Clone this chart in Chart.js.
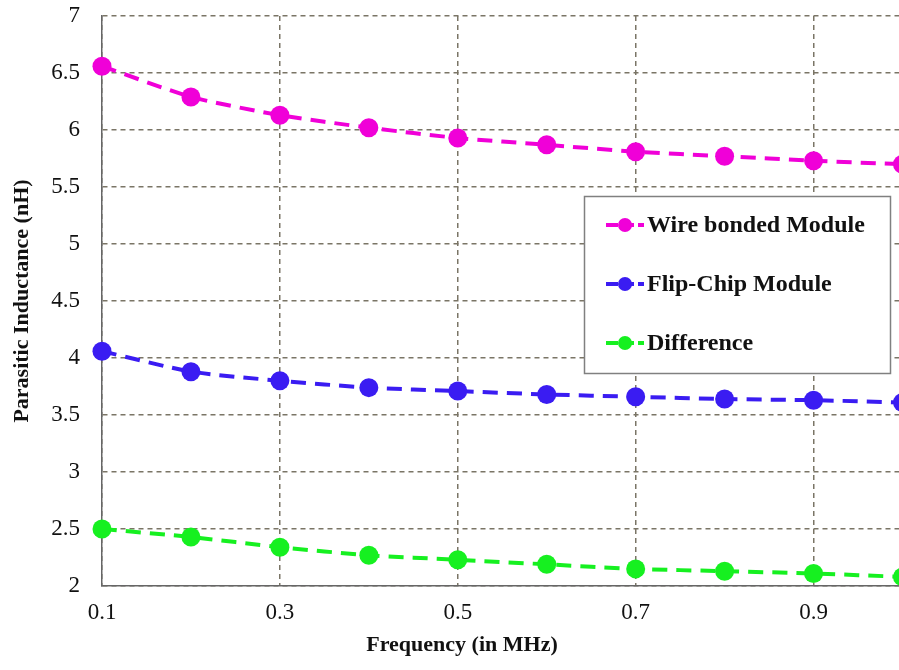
<!DOCTYPE html>
<html>
<head>
<meta charset="utf-8">
<title>Parasitic Inductance vs Frequency</title>
<script src="https://cdn.jsdelivr.net/npm/chart.js@4/dist/chart.umd.min.js"></script>
<style>
  html, body { margin: 0; padding: 0; background: #fff; overflow: hidden; }
  canvas { display: block; }
</style>
</head>
<body>
<canvas id="inductanceChart" width="912" height="670"></canvas>
<script>
// frequency points (MHz)
const FREQ = [0.1, 0.2, 0.3, 0.4, 0.5, 0.6, 0.7, 0.8, 0.9, 1.0];

// inductance per module (nH)
const WIRE_BONDED = [6.56, 6.29, 6.13, 6.02, 5.93, 5.87, 5.81, 5.77, 5.73, 5.70];
const FLIP_CHIP   = [4.06, 3.88, 3.80, 3.74, 3.71, 3.68, 3.66, 3.64, 3.63, 3.61];
const DIFFERENCE  = [2.50, 2.43, 2.34, 2.27, 2.23, 2.19, 2.15, 2.13, 2.11, 2.08];

const SERIES_NAMES = ['Wire bonded Module', 'Flip-Chip Module', 'Difference'];
const SERIES_COLORS = ['#F000D8', '#3A1CF2', '#16F020'];

const X_TICKS = [0.1, 0.3, 0.5, 0.7, 0.9];
const Y_MIN = 2, Y_MAX = 7, Y_STEP = 0.5;

const SERIF = "'Liberation Serif', 'Times New Roman', serif";
const GRID_COLOR = '#7a7566';
const AXIS_COLOR = '#666';

function toPoints(values) {
    return values.map((v, i) => ({ x: FREQ[i], y: v }));
}

function makeDataset(label, values, color) {
    return {
        label: label,
        data: toPoints(values),
        borderColor: color,
        backgroundColor: color,
        borderWidth: 4,
        borderDash: [15, 9],
        pointRadius: 9.5,
        pointHoverRadius: 9.5,
        pointBorderWidth: 0,
        pointBackgroundColor: color,
        tension: 0.2,
        clip: false
    };
}

// boxed legend + centred x title, drawn on top of the plot
const overlayPlugin = {
    id: 'overlay',
    afterDraw(chart) {
        const ctx = chart.ctx;
        ctx.save();

        // x axis title
        ctx.fillStyle = '#111';
        ctx.font = 'bold 22px ' + SERIF;
        ctx.textAlign = 'center';
        ctx.textBaseline = 'middle';
        ctx.fillText('Frequency (in MHz)', 462, 645);

        // legend box
        const box = { x: 584.5, y: 196.5, w: 306, h: 177 };
        ctx.fillStyle = '#fff';
        ctx.fillRect(box.x, box.y, box.w, box.h);
        ctx.strokeStyle = '#808080';
        ctx.lineWidth = 1.5;
        ctx.strokeRect(box.x, box.y, box.w, box.h);

        const rows = [225, 284, 343];
        chart.data.datasets.forEach((ds, i) => {
            const y = rows[i];
            ctx.strokeStyle = ds.borderColor;
            ctx.lineWidth = 4;
            ctx.setLineDash([12, 4]);
            ctx.lineDashOffset = 0;
            ctx.beginPath();
            ctx.moveTo(606, y);
            ctx.lineTo(644, y);
            ctx.stroke();
            ctx.setLineDash([]);
            ctx.fillStyle = ds.borderColor;
            ctx.beginPath();
            ctx.arc(625, y, 7, 0, Math.PI * 2);
            ctx.fill();

            ctx.fillStyle = '#111';
            ctx.font = 'bold 24px ' + SERIF;
            ctx.textAlign = 'left';
            ctx.textBaseline = 'middle';
            ctx.fillText(ds.label, 647, y + 1);
        });

        ctx.restore();
    }
};

// fixed axis sizes, no extra room reserved for edge labels
function fixX(scale) {
    scale.height = 84;
    scale.paddingLeft = 0;
    scale.paddingRight = 0;
}
function fixY(scale) {
    scale.width = 102;
    scale.paddingTop = 0;
    scale.paddingBottom = 0;
}

const ctx = document.getElementById('inductanceChart').getContext('2d');

new Chart(ctx, {
    type: 'line',
    data: {
        datasets: [
            makeDataset(SERIES_NAMES[0], WIRE_BONDED, SERIES_COLORS[0]),
            makeDataset(SERIES_NAMES[1], FLIP_CHIP, SERIES_COLORS[1]),
            makeDataset(SERIES_NAMES[2], DIFFERENCE, SERIES_COLORS[2])
        ]
    },
    options: {
        responsive: false,
        animation: false,
        devicePixelRatio: 1,
        layout: { padding: { top: 16, left: 0, right: 0, bottom: 0 } },
        plugins: {
            legend: { display: false },
            tooltip: { enabled: false }
        },
        scales: {
            x: {
                type: 'linear',
                min: 0.1,
                max: 1.0,
                afterBuildTicks: (scale) => {
                    scale.ticks = X_TICKS.map(v => ({ value: v }));
                },
                afterFit: fixX,
                grid: {
                    color: GRID_COLOR,
                    lineWidth: 1.5,
                    drawTicks: false
                },
                border: { color: AXIS_COLOR, width: 1.5, dash: [5, 4] },
                ticks: {
                    color: '#111',
                    padding: 13,
                    maxRotation: 0,
                    font: { family: SERIF, size: 23 },
                    callback: (v) => Number(v).toFixed(1)
                },
                title: { display: false }
            },
            y: {
                min: Y_MIN,
                max: Y_MAX,
                afterFit: fixY,
                grid: {
                    color: GRID_COLOR,
                    lineWidth: 1.5,
                    drawTicks: false
                },
                border: { color: AXIS_COLOR, width: 1.5, dash: [5, 4] },
                ticks: {
                    stepSize: Y_STEP,
                    color: '#111',
                    padding: 22,
                    font: { family: SERIF, size: 23 },
                    callback: (v) => String(v)
                },
                title: {
                    display: true,
                    text: 'Parasitic Inductance (nH)',
                    color: '#111',
                    font: { family: SERIF, size: 22, weight: 'bold' },
                    padding: { top: 9, bottom: 0 }
                }
            }
        }
    },
    plugins: [overlayPlugin]
});
</script>
</body>
</html>
